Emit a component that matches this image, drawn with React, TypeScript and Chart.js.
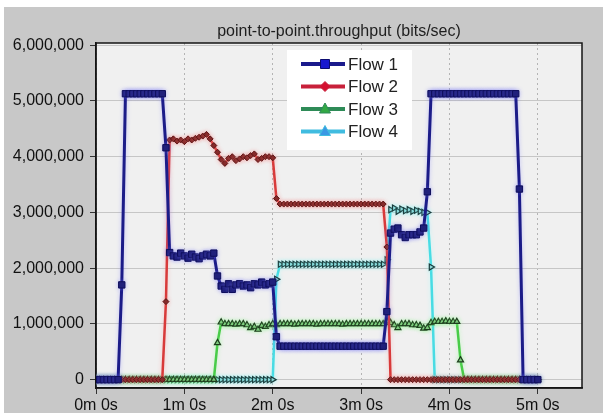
import React, { useEffect, useRef } from 'react';
import { Chart, registerables } from 'chart.js';

Chart.register(...registerables);

const TITLE = 'point-to-point.throughput (bits/sec)';
const SERIES_NAMES = ['Flow 1', 'Flow 2', 'Flow 3', 'Flow 4'];

// time of each sample, seconds
const TIMES = [
  0, 2.5, 5, 7.5, 10, 12.5, 15, 17.5, 20, 22.5,
  25, 27.5, 30, 32.5, 35, 37.5, 40, 42.5, 45, 47.5,
  50, 52.5, 55, 57.5, 60, 62.5, 65, 67.5, 70, 72.5,
  75, 77.5, 80, 82.5, 85, 87.5, 90, 92.5, 95, 97.5,
  100, 102.5, 105, 107.5, 110, 112.5, 115, 117.5, 120, 122.5,
  125, 127.5, 130, 132.5, 135, 137.5, 140, 142.5, 145, 147.5,
  150, 152.5, 155, 157.5, 160, 162.5, 165, 167.5, 170, 172.5,
  175, 177.5, 180, 182.5, 185, 187.5, 190, 192.5, 195, 197.5,
  200, 202.5, 205, 207.5, 210, 212.5, 215, 217.5, 220, 222.5,
  225, 227.5, 230, 232.5, 235, 237.5, 240, 242.5, 245, 247.5,
  250, 252.5, 255, 257.5, 260, 262.5, 265, 267.5, 270, 272.5,
  275, 277.5, 280, 282.5, 285, 287.5, 290, 292.5, 295, 297.5,
  300,
];

// throughput, millions of bits/sec
const FLOW_1 = [
  0, 0, 0, 0, 0, 0, 0, 1.7, 5.13, 5.13,
  5.13, 5.13, 5.13, 5.13, 5.13, 5.13, 5.13, 5.13, 5.13, 4.16,
  2.28, 2.22, 2.2, 2.27, 2.22, 2.18, 2.25, 2.2, 2.17, 2.22,
  2.25, 2.22, 2.27, 1.86, 1.68, 1.62, 1.72, 1.62, 1.7, 1.72,
  1.68, 1.7, 1.65, 1.72, 1.7, 1.75, 1.7, 1.72, 1.75, 0.77,
  0.6, 0.6, 0.6, 0.6, 0.6, 0.6, 0.6, 0.6, 0.6, 0.6,
  0.6, 0.6, 0.6, 0.6, 0.6, 0.6, 0.6, 0.6, 0.6, 0.6,
  0.6, 0.6, 0.6, 0.6, 0.6, 0.6, 0.6, 0.6, 0.6, 1.22,
  2.63, 2.7, 2.72, 2.6, 2.55, 2.6, 2.6, 2.6, 2.65, 2.72,
  3.37, 5.13, 5.13, 5.13, 5.13, 5.13, 5.13, 5.13, 5.13, 5.13,
  5.13, 5.13, 5.13, 5.13, 5.13, 5.13, 5.13, 5.13, 5.13, 5.13,
  5.13, 5.13, 5.13, 5.13, 5.13, 3.42, 0, 0, 0, 0,
  0,
];

const FLOW_2 = [
  0, 0, 0, 0, 0, 0, 0, 0, 0, 0,
  0, 0, 0, 0, 0, 0, 0, 0, 0, 1.4,
  4.3, 4.32, 4.28, 4.3, 4.27, 4.32, 4.3, 4.33, 4.35, 4.37,
  4.4, 4.32, 4.2, 4.08, 3.95, 3.88, 3.97, 4.0, 3.93, 3.96,
  4.0, 3.98, 4.02, 4.05, 3.95, 3.97, 4.0, 4.0, 3.98, 3.25,
  3.15, 3.15, 3.15, 3.15, 3.15, 3.15, 3.15, 3.15, 3.15, 3.15,
  3.15, 3.15, 3.15, 3.15, 3.15, 3.15, 3.15, 3.15, 3.15, 3.15,
  3.15, 3.15, 3.15, 3.15, 3.15, 3.15, 3.15, 3.15, 3.15, 2.38,
  0, 0, 0, 0, 0, 0, 0, 0, 0, 0,
  0, 0, 0, 0, 0, 0, 0, 0, 0, 0,
  0, 0, 0, 0, 0, 0, 0, 0, 0, 0,
  0, 0, 0, 0, 0, 0, 0, 0, 0, 0,
  0,
];

const FLOW_3 = [
  0, 0, 0, 0, 0, 0, 0, 0, 0, 0,
  0, 0, 0, 0, 0, 0, 0, 0, 0, 0,
  0, 0, 0, 0, 0, 0, 0, 0, 0, 0,
  0, 0, 0, 0.66, 1.03, 1.0, 1.0, 1.0, 0.99, 1.0,
  1.0, 0.98, 0.93, 0.95, 0.9, 0.97, 0.95, 0.98, 1.0, 0.98,
  1.0, 1.0, 1.0, 1.0, 0.99, 1.0, 1.0, 1.0, 1.0, 1.0,
  0.99, 1.0, 1.0, 1.0, 1.0, 1.0, 1.0, 0.99, 1.0, 1.0,
  1.0, 1.0, 1.0, 1.0, 1.0, 1.0, 1.0, 1.0, 1.0, 1.05,
  1.02, 0.98, 0.93, 1.0, 1.0, 1.0, 0.98, 0.98, 0.97, 0.92,
  0.93, 1.02, 1.04, 1.04, 1.04, 1.05, 1.04, 1.04, 1.04, 0.35,
  0, 0, 0, 0, 0, 0, 0, 0, 0, 0,
  0, 0, 0, 0, 0, 0, 0, 0, 0, 0,
  0,
];

const FLOW_4 = [
  0, 0, 0, 0, 0, 0, 0, 0, 0, 0,
  0, 0, 0, 0, 0, 0, 0, 0, 0, 0,
  0, 0, 0, 0, 0, 0, 0, 0, 0, 0,
  0, 0, 0, 0, 0, 0, 0, 0, 0, 0,
  0, 0, 0, 0, 0, 0, 0, 0, 0, 1.8,
  2.07, 2.07, 2.07, 2.07, 2.07, 2.07, 2.07, 2.07, 2.07, 2.07,
  2.07, 2.07, 2.07, 2.07, 2.07, 2.07, 2.07, 2.07, 2.07, 2.07,
  2.07, 2.07, 2.07, 2.07, 2.07, 2.07, 2.07, 2.07, 2.07, 2.15,
  3.05, 3.08, 3.02, 3.06, 3.03, 3.05, 3.02, 3.04, 3.02, 3.0,
  3.0, 2.02, 0, 0, 0, 0, 0, 0, 0, 0,
  0, 0, 0, 0, 0, 0, 0, 0, 0, 0,
  0, 0, 0, 0, 0, 0, 0, 0, 0, 0,
  0,
];

const FONT = '"Liberation Sans", Arial, sans-serif';

const LINE_COLORS = ['#1c1c88', '#d83a3a', '#48cc48', '#48dce4'];
const GLOW_COLORS = [
  'rgba(120,120,255,0.4)',
  'rgba(255,140,140,0.45)',
  'rgba(140,255,140,0.45)',
  'rgba(140,255,255,0.45)',
];
const LEGEND_LINE = ['#1a1a8c', '#c8203a', '#2e8b57', '#40bce0'];
const LEGEND_MARK = ['#1818d0', '#d41030', '#33a844', '#3a98e4'];

function fmtThousands(v: number) {
  return String(Math.round(v)).replace(/\B(?=(\d{3})+(?!\d))/g, ',');
}

const decorPlugin = {
  id: 'decor',
  beforeDraw(chart: any) {
    const { ctx, chartArea: a, width, height } = chart;
    ctx.save();
    ctx.fillStyle = '#c8c8c8';
    ctx.fillRect(0, 0, width, height);
    ctx.fillStyle = '#f0f0f0';
    ctx.fillRect(a.left, a.top, a.right - a.left, a.bottom - a.top);
    ctx.fillStyle = '#1e1e1e';
    ctx.font = '16px ' + FONT;
    ctx.textAlign = 'center';
    ctx.textBaseline = 'middle';
    ctx.fillText(TITLE, (a.left + a.right) / 2, a.top - 11);
    ctx.restore();
  },
  beforeDatasetsDraw(chart: any) {
    const { ctx, chartArea: a } = chart;
    ctx.save();
    ctx.strokeStyle = '#151515';
    ctx.lineWidth = 1.5;
    ctx.strokeRect(a.left, a.top, a.right - a.left, a.bottom - a.top);
    ctx.restore();
  },
  beforeDatasetDraw(chart: any, args: any) {
    const ctx = chart.ctx;
    ctx.save();
    ctx.shadowColor = GLOW_COLORS[args.index];
    ctx.shadowBlur = 4;
  },
  afterDatasetDraw(chart: any) {
    chart.ctx.restore();
  },
  afterDraw(chart: any) {
    const ctx = chart.ctx;
    ctx.save();
    ctx.fillStyle = '#ffffff';
    ctx.fillRect(283, 43, 125, 100);
    for (let i = 0; i < SERIES_NAMES.length; i++) {
      const y = 57 + i * 22.5;
      ctx.strokeStyle = LEGEND_LINE[i];
      ctx.lineWidth = 4;
      ctx.beginPath();
      ctx.moveTo(297, y);
      ctx.lineTo(341, y);
      ctx.stroke();
      const cx = 321;
      ctx.fillStyle = LEGEND_MARK[i];
      ctx.strokeStyle = i === 0 ? '#0c0c70' : LEGEND_LINE[i];
      ctx.lineWidth = 1;
      ctx.beginPath();
      if (i === 0) {
        ctx.rect(cx - 4.5, y - 4.5, 9, 9);
      } else if (i === 1) {
        ctx.moveTo(cx, y - 5);
        ctx.lineTo(cx + 5, y);
        ctx.lineTo(cx, y + 5);
        ctx.lineTo(cx - 5, y);
        ctx.closePath();
      } else {
        ctx.moveTo(cx, y - 6);
        ctx.lineTo(cx + 5.5, y + 4);
        ctx.lineTo(cx - 5.5, y + 4);
        ctx.closePath();
      }
      ctx.fill();
      ctx.stroke();
      ctx.fillStyle = '#222222';
      ctx.font = '17px ' + FONT;
      ctx.textAlign = 'left';
      ctx.textBaseline = 'middle';
      ctx.fillText(SERIES_NAMES[i], 344, y + 1);
    }
    ctx.restore();
  },
};

export default function App() {
  const ref = useRef<HTMLCanvasElement>(null);
  useEffect(() => {
    document.body.style.margin = '0';
    const chart = new Chart(ref.current as HTMLCanvasElement, {
      type: 'line',
      data: {
        labels: TIMES,
        datasets: [
          {
            label: SERIES_NAMES[0],
            data: FLOW_1,
            borderColor: LINE_COLORS[0],
            borderWidth: 3,
            pointStyle: 'rect',
            pointRadius: 4.5,
            pointBackgroundColor: '#18186e',
            pointBorderColor: '#0e0e5a',
            pointBorderWidth: 1,
            tension: 0,
          },
          {
            label: SERIES_NAMES[1],
            data: FLOW_2,
            borderColor: LINE_COLORS[1],
            borderWidth: 2.5,
            pointStyle: 'rectRot',
            pointRadius: 3,
            pointBackgroundColor: '#7a2020',
            pointBorderColor: '#5a1414',
            pointBorderWidth: 1,
            tension: 0,
          },
          {
            label: SERIES_NAMES[2],
            data: FLOW_3,
            borderColor: LINE_COLORS[2],
            borderWidth: 2.5,
            pointStyle: 'triangle',
            pointRadius: 3.5,
            pointBackgroundColor: '#7cc07c',
            pointBorderColor: '#1e3c1e',
            pointBorderWidth: 1.2,
            tension: 0,
          },
          {
            label: SERIES_NAMES[3],
            data: FLOW_4,
            borderColor: LINE_COLORS[3],
            borderWidth: 2.5,
            pointStyle: 'triangle',
            pointRotation: 90,
            pointRadius: 3.5,
            pointBackgroundColor: '#8ad0d0',
            pointBorderColor: '#1a3a3a',
            pointBorderWidth: 1.2,
            tension: 0,
          },
        ],
      },
      options: {
        responsive: false,
        animation: false,
        events: [],
        layout: { padding: { top: 36, right: 21, left: 0, bottom: 0 } },
        plugins: {
          legend: { display: false },
          title: { display: false },
          tooltip: { enabled: false },
        },
        scales: {
          x: {
            type: 'linear',
            min: 0,
            max: 330,
            afterFit(s: any) {
              s.height = 25;
            },
            grid: {
              color: '#b4b4b4',
              lineWidth: 1,
              tickColor: '#333333',
              tickLength: 6,
            },
            border: { display: true, color: '#151515', width: 1.5, dash: [2, 3] },
            ticks: {
              stepSize: 60,
              includeBounds: false,
              autoSkip: false,
              maxRotation: 0,
              padding: 2,
              color: '#111111',
              font: { family: FONT, size: 16 },
              callback: (v: any) => `${Math.round(Number(v) / 60)}m 0s`,
            },
          },
          y: {
            type: 'linear',
            min: -0.15,
            max: 6.04,
            afterFit(s: any) {
              s.width = 92;
            },
            grid: {
              color: '#c6c6c6',
              lineWidth: 1,
              tickColor: '#333333',
              tickLength: 6,
            },
            border: { display: true, color: '#151515', width: 1.5 },
            ticks: {
              stepSize: 1,
              includeBounds: false,
              padding: 6,
              color: '#111111',
              font: { family: FONT, size: 16 },
              callback: (v: any) => fmtThousands(Number(v) * 1e6),
            },
          },
        },
      },
      plugins: [decorPlugin],
    } as any);
    return () => chart.destroy();
  }, []);
  return (
    <div style={{ position: 'fixed', left: 0, top: 0, width: 603, height: 413, background: '#ffffff' }}>
      <canvas
        ref={ref}
        width={599}
        height={406}
        style={{ position: 'absolute', left: 4, top: 7, width: 599, height: 406 }}
      />
    </div>
  );
}
